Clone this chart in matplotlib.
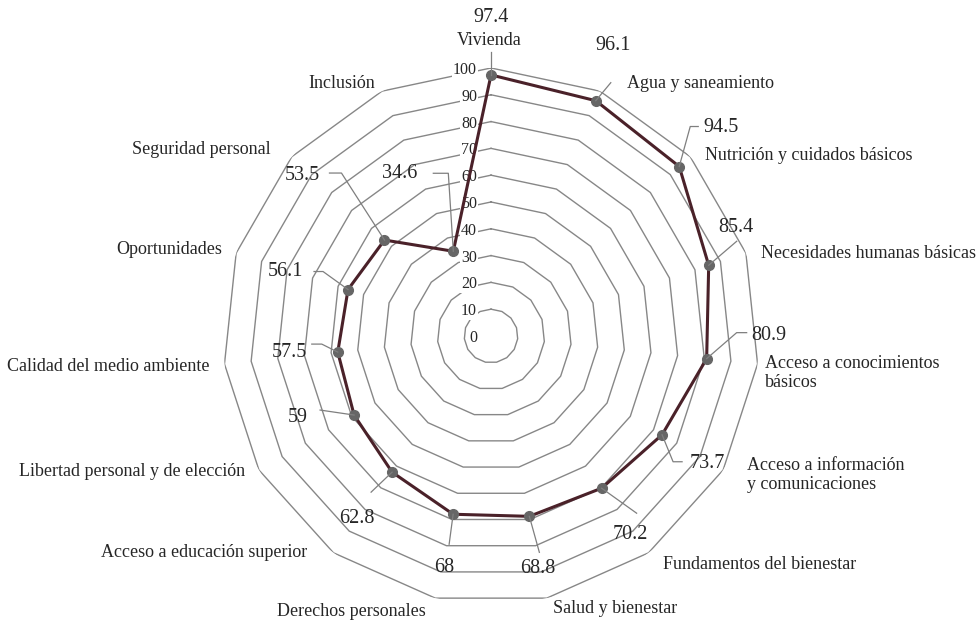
import numpy as np
import matplotlib
matplotlib.use('Agg')
import matplotlib.pyplot as plt
from matplotlib.lines import Line2D
from matplotlib.transforms import IdentityTransform

plt.rcParams['font.family'] = ['Liberation Serif', 'DejaVu Serif']

categories = ['Vivienda', 'Agua y saneamiento', 'Nutrición y cuidados básicos',
              'Necesidades humanas básicas', 'Acceso a conocimientos\nbásicos',
              'Acceso a información\ny comunicaciones', 'Fundamentos del bienestar',
              'Salud y bienestar', 'Derechos personales', 'Acceso a educación superior',
              'Libertad personal y de elección', 'Calidad del medio ambiente',
              'Oportunidades', 'Seguridad personal', 'Inclusión']
values = [97.4, 96.1, 94.5, 85.4, 80.9, 73.7, 70.2, 68.8, 68, 62.8, 59, 57.5, 56.1, 53.5, 34.6]
value_labels = ['97.4', '96.1', '94.5', '85.4', '80.9', '73.7', '70.2', '68.8', '68',
                '62.8', '59', '57.5', '56.1', '53.5', '34.6']
ring_levels = list(range(0, 101, 10))

# layout: pixel offsets (x right, y down) from each point / outer vertex
val_pos = [(0, -57, 'center'), (17, -55, 'center'), (24, -39, 'left'), (10, -38, 'left'),
           (45, -23, 'left'), (28, 29, 'left'), (11, 46, 'left'), (8, 52, 'center'),
           (-9, 53, 'center'), (-18, 46, 'right'), (-56, 2, 'center'), (-31, 0, 'right'),
           (-45, -18, 'right'), (-65, -65, 'right'), (-36, -78, 'right')]
leaders = [[(0, -23)], [(15, -18)], [(11, -40), (19, -40)], [(28, -24)],
           [(30, -26), (40, -26)], [(11, 27), (20, 27)], [(35, 25)], [(10, 36)],
           [(-4, 30)], [(-21, 20)], [(-34, -5)], [(-16, -8), (-26, -8)],
           [(-25, -18), (-34, -18)], [(-43, -67), (-55, -67)], [(-5, -78), (-20, -78)]]
cat_pos = [(-2, -27, 'center'), (27, -8, 'left'), (15, -1, 'left'), (15, 0, 'left'),
           (7, 9, 'left'), (24, 5, 'left'), (14, 12, 'left'), (6, 10, 'left'),
           (-10, 13, 'right'), (-26, 0, 'right'), (-14, 2, 'right'), (-15, 3, 'right'),
           (-14, -4, 'right'), (-21, -7, 'right'), (-7, -8, 'right')]

GRID = '#878787'
LINE = '#4a2129'
MARK = '#666666'
TEXT = '#262626'

fig = plt.figure(figsize=(9.76, 6.23), dpi=100)
ax = fig.add_axes([0.2285, 0.0305, 0.5492, 0.8604], projection='polar')
ax.set_theta_offset(np.pi / 2)
ax.set_theta_direction(-1)
ax.set_ylim(0, 100)
ax.axis('off')

n = len(categories)
theta = np.arange(n) * 2 * np.pi / n
theta_c = np.append(theta, theta[0])

for k in ring_levels[1:]:
    ax.plot(theta_c, [k] * (n + 1), color=GRID, lw=1.0, zorder=1)
for k in ring_levels:
    ax.annotate(str(k), xy=(0, k), xytext=(-14, -2), textcoords='offset pixels',
                ha='right', va='center', fontsize=11.5, color=TEXT, zorder=2,
                bbox=dict(boxstyle='square,pad=0.05', fc='white', ec='none'))

vals_c = np.append(values, values[0])
ax.plot(theta_c, vals_c, color=LINE, lw=2.2, zorder=3)
ax.plot(theta, values, 'o', ms=7, color=MARK, zorder=4)

for i in range(n):
    px, py = ax.transData.transform((theta[i], values[i]))
    xs = [px] + [px + dx for dx, dy in leaders[i]]
    ys = [py] + [py - dy for dx, dy in leaders[i]]
    fig.add_artist(Line2D(xs, ys, transform=IdentityTransform(), color='#7f7f7f', lw=0.9, zorder=2))
    dx, dy, ha = val_pos[i]
    ax.annotate(value_labels[i], xy=(theta[i], values[i]), xytext=(dx, -dy),
                textcoords='offset pixels', ha=ha, va='center', fontsize=14.5, color=TEXT)
    dx, dy, ha = cat_pos[i]
    ax.annotate(categories[i], xy=(theta[i], 100), xytext=(dx, -dy),
                textcoords='offset pixels', ha=ha, va='center', fontsize=13,
                color=TEXT, linespacing=1.15, annotation_clip=False)

fig.savefig('out.png', dpi=100)
